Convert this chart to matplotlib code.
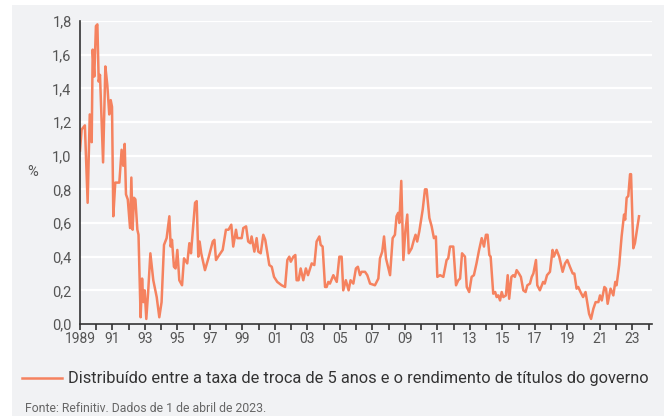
import matplotlib
matplotlib.use("Agg")
import matplotlib.pyplot as plt
from matplotlib.patches import Rectangle
from matplotlib.lines import Line2D
from matplotlib.ticker import FixedLocator

plt.rcParams['font.family'] = ['Roboto', 'DejaVu Sans']

years = [1989.0, 1989.1, 1989.3, 1989.47, 1989.6, 1989.72, 1989.78, 1989.88, 1989.98, 1990.07,
         1990.15, 1990.23, 1990.42, 1990.56, 1990.68, 1990.8, 1990.89, 1990.97, 1991.05, 1991.17,
         1991.42, 1991.56, 1991.66, 1991.75, 1991.83, 1991.94, 1992.08, 1992.16, 1992.24, 1992.32,
         1992.41, 1992.53, 1992.6, 1992.73, 1992.82, 1992.9, 1992.98, 1993.08, 1993.2, 1993.33,
         1993.51, 1993.72, 1993.88, 1994.02, 1994.17, 1994.33, 1994.5, 1994.58, 1994.66, 1994.78,
         1994.88, 1994.99, 1995.11, 1995.28, 1995.4, 1995.6, 1995.73, 1995.83, 1995.93, 1996.08,
         1996.18, 1996.28, 1996.36, 1996.46, 1996.69, 1996.9, 1997.17, 1997.27, 1997.37, 1997.5,
         1997.78, 1997.98, 1998.14, 1998.31, 1998.43, 1998.6, 1998.68, 1998.95, 1999.05, 1999.22,
         1999.35, 1999.48, 1999.56, 1999.73, 1999.87, 1999.97, 2000.12, 2000.28, 2000.4, 2000.65,
         2000.8, 2000.94, 2001.14, 2001.41, 2001.62, 2001.76, 2001.88, 2001.97, 2002.13, 2002.25,
         2002.33, 2002.45, 2002.58, 2002.74, 2002.9, 2003.03, 2003.26, 2003.42, 2003.56, 2003.73,
         2003.81, 2003.93, 2004.08, 2004.18, 2004.28, 2004.38, 2004.59, 2004.8, 2004.96, 2005.1,
         2005.2, 2005.36, 2005.53, 2005.65, 2005.82, 2005.98, 2006.1, 2006.23, 2006.33, 2006.54,
         2006.68, 2006.85, 2007.15, 2007.36, 2007.46, 2007.6, 2007.71, 2007.83, 2008.08, 2008.24,
         2008.38, 2008.48, 2008.58, 2008.65, 2008.77, 2008.9, 2009.02, 2009.14, 2009.23, 2009.41,
         2009.55, 2009.65, 2009.75, 2009.88, 2010.09, 2010.23, 2010.33, 2010.5, 2010.64, 2010.78,
         2010.9, 2010.99, 2011.16, 2011.36, 2011.56, 2011.66, 2011.77, 2011.97, 2012.14, 2012.28,
         2012.39, 2012.51, 2012.69, 2012.8, 2012.95, 2013.1, 2013.24, 2013.4, 2013.56, 2013.72,
         2013.86, 2013.98, 2014.08, 2014.19, 2014.27, 2014.43, 2014.55, 2014.64, 2014.74, 2014.85,
         2014.95, 2015.05, 2015.21, 2015.32, 2015.41, 2015.55, 2015.66, 2015.76, 2015.87, 2016.01,
         2016.13, 2016.28, 2016.42, 2016.53, 2016.69, 2016.8, 2016.9, 2017.06, 2017.14, 2017.3,
         2017.5, 2017.6, 2017.74, 2017.92, 2018.08, 2018.16, 2018.33, 2018.49, 2018.7, 2018.85,
         2018.99, 2019.15, 2019.32, 2019.42, 2019.56, 2019.66, 2019.8, 2019.96, 2020.11, 2020.21,
         2020.33, 2020.45, 2020.59, 2020.73, 2020.9, 2021.0, 2021.11, 2021.27, 2021.37, 2021.47,
         2021.65, 2021.82, 2021.94, 2022.02, 2022.18, 2022.33, 2022.48, 2022.55, 2022.64, 2022.74,
         2022.85, 2022.91, 2023.05, 2023.15, 2023.4]
spread = [1.03, 1.155, 1.18, 0.72, 1.245, 1.08, 1.63, 1.47, 1.77, 1.78,
          1.44, 1.48, 0.96, 1.53, 1.42, 1.245, 1.33, 1.29, 0.64, 0.84,
          0.84, 1.035, 0.94, 1.07, 0.77, 0.74, 0.57, 0.87, 0.56, 0.75,
          0.74, 0.56, 0.53, 0.04, 0.27, 0.13, 0.20, 0.03, 0.20, 0.42,
          0.26, 0.16, 0.04, 0.13, 0.47, 0.51, 0.64, 0.46, 0.50, 0.34,
          0.33, 0.44, 0.26, 0.23, 0.39, 0.36, 0.48, 0.42, 0.54, 0.72,
          0.73, 0.40, 0.49, 0.42, 0.32, 0.39, 0.49, 0.50, 0.38, 0.40,
          0.44, 0.56, 0.56, 0.59, 0.46, 0.56, 0.51, 0.51, 0.57, 0.58,
          0.49, 0.48, 0.52, 0.43, 0.51, 0.43, 0.42, 0.53, 0.50, 0.35,
          0.34, 0.28, 0.25, 0.23, 0.22, 0.38, 0.40, 0.37, 0.40, 0.41,
          0.26, 0.26, 0.33, 0.26, 0.33, 0.29, 0.36, 0.35, 0.49, 0.52,
          0.47, 0.46, 0.22, 0.22, 0.25, 0.24, 0.29, 0.25, 0.40, 0.40,
          0.20, 0.26, 0.20, 0.26, 0.24, 0.33, 0.34, 0.29, 0.31, 0.31,
          0.29, 0.24, 0.23, 0.27, 0.39, 0.43, 0.52, 0.39, 0.29, 0.51,
          0.53, 0.64, 0.66, 0.60, 0.85, 0.38, 0.55, 0.65, 0.42, 0.45,
          0.50, 0.53, 0.49, 0.55, 0.68, 0.80, 0.80, 0.63, 0.58, 0.51,
          0.52, 0.28, 0.29, 0.28, 0.38, 0.39, 0.46, 0.46, 0.23, 0.26,
          0.27, 0.42, 0.40, 0.22, 0.19, 0.28, 0.29, 0.36, 0.44, 0.51,
          0.46, 0.53, 0.53, 0.41, 0.40, 0.18, 0.19, 0.16, 0.17, 0.14,
          0.19, 0.16, 0.17, 0.29, 0.15, 0.28, 0.29, 0.28, 0.32, 0.30,
          0.28, 0.20, 0.19, 0.23, 0.24, 0.28, 0.30, 0.38, 0.23, 0.20,
          0.25, 0.24, 0.29, 0.31, 0.44, 0.40, 0.44, 0.40, 0.31, 0.36,
          0.38, 0.34, 0.30, 0.30, 0.21, 0.22, 0.19, 0.16, 0.19, 0.13,
          0.06, 0.03, 0.09, 0.13, 0.13, 0.17, 0.14, 0.22, 0.21, 0.12,
          0.21, 0.17, 0.25, 0.23, 0.35, 0.52, 0.65, 0.62, 0.75, 0.76,
          0.89, 0.89, 0.45, 0.48, 0.64]

major_years = list(range(1989, 2024, 2))
tick_labels = ['1989'] + ['%02d' % (y % 100) for y in major_years[1:]]
minor_years = list(range(1990, 2025, 2))
y_ticks = [0.0, 0.2, 0.4, 0.6, 0.8, 1.0, 1.2, 1.4, 1.6, 1.8]
y_labels = ['0,0', '0,2', '0,4', '0,6', '0,8', '1,0', '1,2', '1,4', '1,6', '1,8']
series_label = 'Distribuído entre a taxa de troca de 5 anos e o rendimento de títulos do governo'
source_text = 'Fonte: Refinitiv. Dados de 1 de abril de 2023.'

W, H = 664, 416
fig = plt.figure(figsize=(W / 100, H / 100), dpi=100)
fig.patch.set_facecolor('white')
bg = '#f1f2f4'
fig.patches.append(Rectangle((12 / W, 0), 1 - 12 / W, 1 - 5 / H, transform=fig.transFigure,
                             facecolor=bg, edgecolor='none', zorder=-10))

ax = fig.add_axes([80 / W, (H - 324) / H, 572 / W, 303 / H])
ax.set_zorder(5)
ax.set_facecolor(bg)
line_color = '#f5825f'
ax.plot(years, spread, color=line_color, lw=1.8, solid_joinstyle='round', zorder=3)

ax.set_xlim(1989, 2024.2)
ax.set_ylim(0, 1.8)
ax.set_yticks(y_ticks)
ax.set_yticklabels(y_labels)
ax.xaxis.set_major_locator(FixedLocator(major_years))
ax.set_xticklabels(tick_labels)
ax.xaxis.set_minor_locator(FixedLocator(minor_years))

ax.grid(axis='y', color='white', lw=1.6, zorder=1)
ax.set_axisbelow(True)
for s in ['top', 'right']:
    ax.spines[s].set_visible(False)
for s in ['left', 'bottom']:
    ax.spines[s].set_color('#333333')
    ax.spines[s].set_linewidth(1.2)
    ax.spines[s].set_zorder(4)

ax.tick_params(axis='y', length=0, pad=6, labelsize=10.5, labelcolor='#555555')
ax.tick_params(axis='x', which='major', length=4, width=1.2, color='#333333', pad=2,
               labelsize=10, labelcolor='#555555')
ax.tick_params(axis='x', which='minor', length=4, width=1.2, color='#333333')

fig.text(33 / W, 1 - 172 / H, '%', ha='center', va='center', fontsize=10.5, color='#555555')

# legend
fig.add_artist(Line2D([22 / W, 62 / W], [1 - 378 / H, 1 - 378 / H], transform=fig.transFigure,
                      color=line_color, lw=1.8))
fig.text(68 / W, 1 - 378 / H, series_label, ha='left', va='center', fontsize=11.8, color='#333333')
fig.text(25 / W, 1 - 408 / H, source_text, ha='left', va='center', fontsize=8.8, color='#666666')

fig.savefig('out.png', dpi=100, facecolor='white')
